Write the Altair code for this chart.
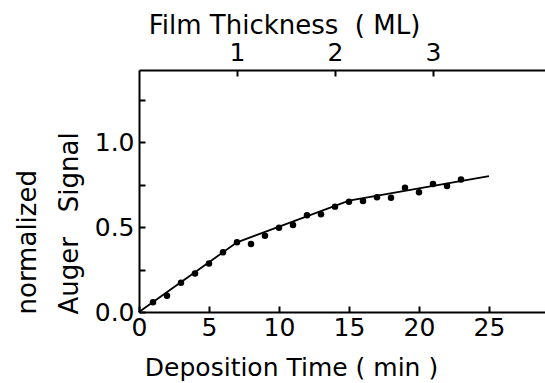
import altair as alt
import pandas as pd

# ---- data ----
time_min = list(range(1, 24))
signal = [0.057, 0.096, 0.172, 0.227, 0.286, 0.351, 0.410, 0.400, 0.449, 0.496,
          0.512, 0.569, 0.575, 0.620, 0.649, 0.653, 0.675, 0.672, 0.731, 0.704,
          0.753, 0.741, 0.780]
fit_time = [0, 7, 15, 25]
fit_signal = [0.0, 0.41, 0.655, 0.80]
x_ticks = [0, 5, 10, 15, 20, 25]
y_ticks = [0, 0.25, 0.5, 0.75, 1.0, 1.25]
ml_ticks = [1, 2, 3]
min_per_ml = 7

FONT = "DejaVu Sans"
NB = "\u00a0"

pts = pd.DataFrame({"t": time_min, "s": signal})
fit = pd.DataFrame({"t": fit_time, "s": fit_signal})
ml = pd.DataFrame({"t": [m * min_per_ml for m in ml_ticks]})

xscale = alt.Scale(domain=[0, 29], nice=False, zero=False)
yscale = alt.Scale(domain=[0, 1.424], nice=False)

common_axis = dict(
    domainColor="black", domainWidth=2, tickColor="black", tickWidth=2,
    tickSize={"expr": "-6"}, labelFont=FONT, labelFontSize=25, labelColor="black",
    titleFont=FONT, titleFontWeight="normal", titleColor="black",
    grid=False,
)

x_axis = alt.Axis(values=x_ticks, title=f"Deposition Time ({NB}min{NB})", orient="bottom",
                  labelPadding=9, titleX=152, titleY=63, titleBaseline="alphabetic",
                  titleFontSize=25, labelFlush=False, **common_axis)

y_axis = alt.Axis(values=y_ticks, title=["normalized", f"Auger{NB}{NB}{NB}Signal"],
                  labelExpr="(round(datum.value*4) % 2 == 0) ? format(datum.value, '.1f') : ''",
                  labelPadding=11, titleAngle=-90, titleAlign="left", titleBaseline="alphabetic",
                  titleX=-104, titleY=244, titleLineHeight=42, titleFontSize=26,
                  **common_axis)

top_axis = alt.Axis(values=[m * min_per_ml for m in ml_ticks], orient="top",
                    title=f"Film Thickness{NB}{NB}({NB}ML)",
                    labelExpr=f"format(datum.value / {min_per_ml}, 'd')",
                    labelPadding=11, titleX=145, titleY=-37, titleBaseline="alphabetic",
                    titleFontSize=26, **common_axis)

line = alt.Chart(fit).mark_line(color="black", strokeWidth=1.8).encode(
    x=alt.X("t:Q", scale=xscale, axis=x_axis),
    y=alt.Y("s:Q", scale=yscale, axis=y_axis),
)

dots = alt.Chart(pts).mark_circle(color="black", opacity=1, size=42).encode(
    x=alt.X("t:Q", scale=xscale, axis=None),
    y=alt.Y("s:Q", scale=yscale, axis=y_axis),
)

top = alt.Chart(ml).mark_point(opacity=0).encode(
    x=alt.X("t:Q", scale=xscale, axis=top_axis),
    y=alt.value(0),
)

chart = (
    alt.layer(line, dots, top)
    .resolve_axis(x="independent")
    .properties(width=406, height=242, autosize="none",
                padding={"left": 139, "top": 70, "right": 0, "bottom": 71},
                background="white")
    .configure_view(stroke=None)
)

chart.save("out.html", embed_options={"renderer": "svg", "actions": False})
